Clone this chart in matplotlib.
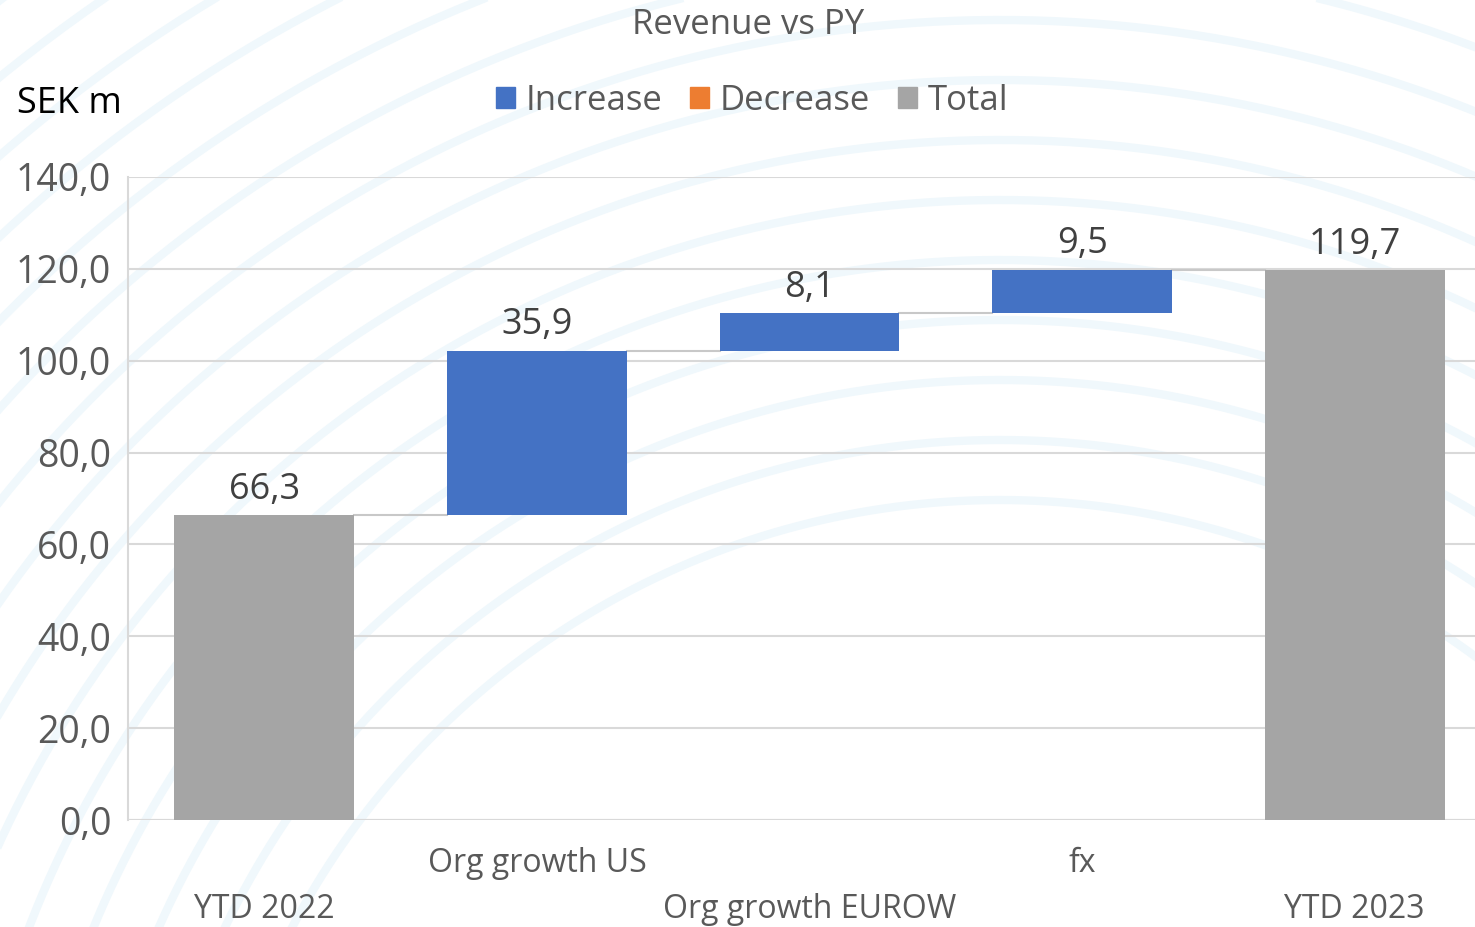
import numpy as np
import matplotlib
matplotlib.use("Agg")
import matplotlib.pyplot as plt
from matplotlib.patches import Patch

plt.rcParams['font.family'] = ['Open Sans', 'DejaVu Sans']

categories = ['YTD 2022', 'Org growth US', 'Org growth EUROW', 'fx', 'YTD 2023']
values = [66.3, 35.9, 8.1, 9.5, 119.7]
kinds = ['total', 'inc', 'inc', 'inc', 'total']
labels = ['66,3', '35,9', '8,1', '9,5', '119,7']
yticks = [0, 20, 40, 60, 80, 100, 120, 140]
ytick_labels = ['0,0', '20,0', '40,0', '60,0', '80,0', '100,0', '120,0', '140,0']

blue = '#4472C4'
orange = '#ED7D31'
grey = '#A5A5A5'
txt = '#595959'

fig = plt.figure(figsize=(14.75, 9.27), dpi=100)

# faint background arcs
bg = fig.add_axes([0, 0, 1, 1], zorder=-10)
bg.set_xlim(0, 1475)
bg.set_ylim(927, 0)
bg.axis('off')
t = np.linspace(0, 2 * np.pi, 400)
for r in range(800, 1700, 60):
    bg.plot(1000 + r * np.cos(t), 1300 + r * np.sin(t), color='#f0f8fc', lw=6, zorder=-10)

ax = fig.add_axes([128 / 1475, 1 - 820 / 927, (1491 - 128) / 1475, (820 - 177) / 927])
ax.patch.set_alpha(0)

x = np.arange(len(categories))
bottoms = []
tops = []
run = 0.0
for v, k in zip(values, kinds):
    if k == 'total':
        bottoms.append(0.0)
        tops.append(v)
        run = v
    else:
        bottoms.append(run)
        run = run + v
        tops.append(run)

colors = [grey if k == 'total' else blue for k in kinds]
heights = [tp - b for tp, b in zip(tops, bottoms)]
w = 0.66
ax.bar(x, heights, bottom=bottoms, width=w, color=colors, zorder=3)

# connector lines
for i in range(len(x) - 1):
    ax.plot([x[i] + w / 2, x[i + 1] - w / 2], [tops[i], tops[i]], color='#c8c8c8', lw=1.5, zorder=2)

for i in range(len(x)):
    ax.text(x[i], tops[i] + 1.6, labels[i], ha='center', va='bottom', fontsize=26, color='#404040')

ax.set_xlim(-0.5, 4.5)
ax.set_ylim(0, 140)
ax.set_yticks(yticks)
ax.set_yticklabels(ytick_labels, fontsize=27, color=txt)
ax.yaxis.grid(True, color='#d9d9d9', lw=1.5, zorder=0)
ax.set_axisbelow(True)
ax.tick_params(axis='y', length=0, pad=12)
ax.set_xticks([])
for s in ['top', 'right', 'bottom']:
    ax.spines[s].set_visible(False)
ax.spines['left'].set_color('#d9d9d9')
ax.spines['left'].set_linewidth(1.5)
ax.axhline(0, color='#d9d9d9', lw=1.5, zorder=1)

# staggered category labels
for i, c in enumerate(categories):
    yy = -19.5 if i % 2 == 0 else -9.4
    ax.text(x[i], yy, c, ha='center', va='center', fontsize=23, color=txt, clip_on=False)

fig.text(748 / 1475, 1 - 25 / 927, 'Revenue vs PY', ha='center', va='center', fontsize=25, color=txt)
fig.text(17 / 1475, 1 - 104 / 927, 'SEK m', ha='left', va='center', fontsize=26, color='black')

handles = [Patch(color=blue), Patch(color=orange), Patch(color=grey)]
fig.legend(handles, ['Increase', 'Decrease', 'Total'], loc='center', bbox_to_anchor=(752 / 1475, 1 - 101 / 927),
           ncol=3, frameon=False, fontsize=25, labelcolor=txt, handlelength=0.55, handleheight=0.55,
           handletextpad=0.3, columnspacing=0.8)

fig.savefig('out.png', dpi=100)
